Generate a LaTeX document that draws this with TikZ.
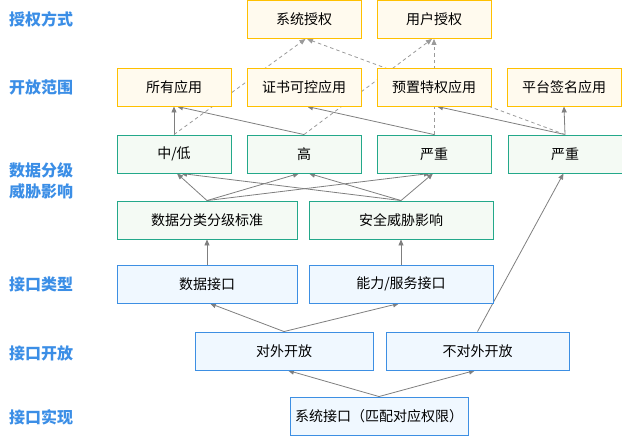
\documentclass[tikz,border=0pt]{standalone}
\usepackage{fontspec}
\setmainfont{Noto Sans CJK SC}
\newfontfamily\cjk{Noto Sans CJK SC}
\usetikzlibrary{arrows.meta,calc,backgrounds}
\definecolor{ybord}{HTML}{FFC000}
\definecolor{yfill}{HTML}{FFFAEE}
\definecolor{gbord}{HTML}{23A88A}
\definecolor{gfill}{HTML}{F4FAF4}
\definecolor{bbord}{HTML}{3D8FE3}
\definecolor{bfill}{HTML}{F0F8FF}
\definecolor{lblue}{HTML}{3B8EE6}
\definecolor{edgec}{HTML}{7F7F7F}
\definecolor{dashc}{HTML}{9A9A9A}
\tikzset{
  box/.style={draw, line width=0.9pt, inner sep=0pt, font=\cjk\fontsize{14}{16}\selectfont, text=black},
  ybox/.style={box, draw=ybord, fill=yfill, minimum width=114pt, minimum height=38pt},
  gbox/.style={box, draw=gbord, fill=gfill, minimum height=38pt},
  bbox/.style={box, draw=bbord, fill=bfill, minimum height=38pt},
  lbl/.style={anchor=west, inner sep=0pt, text=lblue, font=\cjk\bfseries\fontsize{16}{21}\selectfont, align=left},
  arr/.style={draw=edgec, line width=0.8pt, -{Triangle[length=6pt,width=5pt]}},
  darr/.style={draw=dashc, line width=0.8pt, dash pattern=on 3.5pt off 3pt, -{Triangle[length=6pt,width=5pt]}}
}
\begin{document}
\begin{tikzpicture}[x=1pt,y=-1pt]
\useasboundingbox (0,0) rectangle (622,436);
% labels
\node[lbl] (l1) at (9,19) {授权方式};
\node[lbl] (l2) at (9,87) {开放范围};
\node[lbl] (l3) at (9,181) {数据分级\\威胁影响};
\node[lbl] (l4) at (9,284) {接口类型};
\node[lbl] (l5) at (9,353) {接口开放};
\node[lbl] (l6) at (9,417) {接口实现};
% row 1
\node[ybox] (sa) at (304,19.5) {系统授权};
\node[ybox] (ua) at (434,19.5) {用户授权};
% row 2
\node[ybox] (all) at (174,87) {所有应用};
\node[ybox] (cert) at (304,87) {证书可控应用};
\node[ybox] (pre) at (434,87) {预置特权应用};
\node[ybox] (plat) at (564,87) {平台签名应用};
% row 3
\node[gbox, minimum width=114pt] (zd) at (174,154) {中/低};
\node[gbox, minimum width=114pt] (gao) at (304,154) {高};
\node[gbox, minimum width=114pt] (yz) at (434,154) {严重};
\node[gbox, minimum width=114pt] (sev) at (565,154) {严重};
% row 4
\node[gbox, minimum width=180pt] (dstd) at (207,220) {数据分类分级标准};
\node[gbox, minimum width=184pt] (threat) at (401,220) {安全威胁影响};
% row 5
\node[bbox, minimum width=180pt] (dataif) at (207,284) {数据接口};
\node[bbox, minimum width=184pt] (capif) at (401,284) {能力/服务接口};
% row 6
\node[bbox, minimum width=178pt] (ext) at (284,351) {对外开放};
\node[bbox, minimum width=183pt] (noext) at (477.5,351) {不对外开放};
% row 7
\node[bbox, minimum width=178pt] (impl) at (379,416) {系统接口（匹配对应权限）};
\begin{scope}[on background layer]
\draw[arr] (impl.north) -- ($(ext.south)+(4,0)$);
\draw[arr] (impl.north) -- ($(noext.south)+(-2.5,0)$);
\draw[arr] (ext.north) -- ($(dataif.south)+(3,0)$);
\draw[arr] (ext.north) -- ($(capif.south)+(-2,0)$);
\draw[arr] (noext.north) -- ($(sev.south)+(-1.5,0)$);
\draw[arr] (dataif.north) -- (dstd.south);
\draw[arr] (capif.north) -- (threat.south);
\draw[arr] (dstd.north) -- ($(zd.south)+(3,0)$);
\draw[arr] (dstd.north) -- ($(gao.south)+(-5,0)$);
\draw[arr] (dstd.north) -- ($(yz.south)+(-4,0)$);
\draw[arr] (threat.north) -- ($(zd.south)+(7,0)$);
\draw[arr] (threat.north) -- ($(gao.south)+(5,0)$);
\draw[arr] (threat.north) -- ($(yz.south)+(-1,0)$);
\draw[arr] (zd.north) -- (all.south);
\draw[arr] (gao.north) -- ($(all.south)+(3,0)$);
\draw[arr] (yz.north) -- ($(cert.south)+(3,0)$);
\draw[arr] (sev.north) -- ($(pre.south)+(3,0)$);
\draw[arr] (sev.north) -- (plat.south);
\draw[darr] (zd.north) -- ($(sa.south)+(1.5,0)$);
\draw[darr] (gao.north) -- ($(ua.south)+(-2,0)$);
\draw[darr] (yz.north) -- (ua.south);
\draw[darr] (sev.north) -- ($(sa.south)+(3,0)$);
\end{scope}
\end{tikzpicture}
\end{document}
